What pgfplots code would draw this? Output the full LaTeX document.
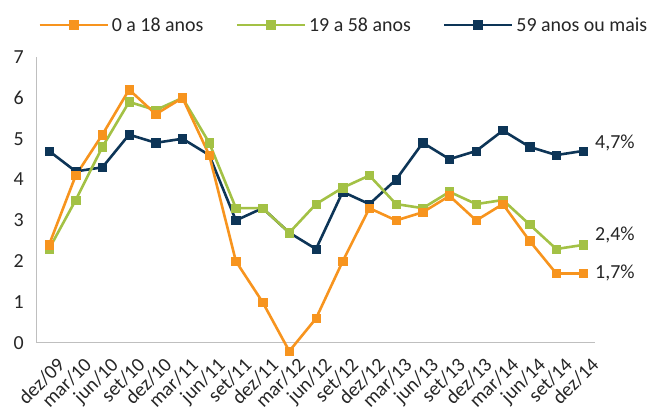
\documentclass[border=0pt]{standalone}
\usepackage{pgfplots}
\pgfplotsset{compat=1.18}
\usepackage{fontspec}
\setmainfont{Carlito}
\definecolor{corange}{RGB}{247,148,30}
\definecolor{cgreen}{RGB}{163,193,69}
\definecolor{cnavy}{RGB}{13,53,87}
\definecolor{caxis}{RGB}{191,191,191}
\definecolor{ctext}{RGB}{38,38,38}
\pgfplotstableread{
x o g n
0 2.4 2.3 4.7
1 4.1 3.5 4.2
2 5.1 4.8 4.3
3 6.2 5.9 5.1
4 5.6 5.7 4.9
5 6.0 6.0 5.0
6 4.6 4.9 4.6
7 2.0 3.3 3.0
8 1.0 3.3 3.3
9 -0.2 2.7 2.7
10 0.6 3.4 2.3
11 2.0 3.8 3.7
12 3.3 4.1 3.4
13 3.0 3.4 4.0
14 3.2 3.3 4.9
15 3.6 3.7 4.5
16 3.0 3.4 4.7
17 3.4 3.5 5.2
18 2.5 2.9 4.8
19 1.7 2.3 4.6
20 1.7 2.4 4.7
}\datatable
\begin{document}
\begin{tikzpicture}
\path[use as bounding box] (0,0) rectangle (654bp,407bp);
\begin{axis}[
 at={(37bp,64bp)}, anchor=south west,
 scale only axis, width=558bp, height=286bp,
 xmin=-0.45, xmax=20.45, ymin=0, ymax=7,
 axis x line=bottom, axis y line=left,
 axis line style={-, draw=caxis, line width=1bp},
 major tick length=0pt,
 xtick={0,...,20},
 xticklabels={dez/09,mar/10,jun/10,set/10,dez/10,mar/11,jun/11,set/11,dez/11,mar/12,jun/12,set/12,dez/12,mar/13,jun/13,set/13,dez/13,mar/14,jun/14,set/14,dez/14},
 ytick={0,...,7},
 clip=false,
 tick label style={font=\fontsize{20}{24}\selectfont, text=ctext},
 /pgf/number format/assume math mode=true,
 yticklabel style={inner sep=0pt, xshift=-13bp},
 xticklabel style={anchor=base east, inner sep=0pt, xshift=17bp, yshift=-23bp, rotate=45},
 legend columns=3,
 legend style={at={(axis description cs:0.0018,1.112)}, anchor=west, draw=none, fill=none, inner sep=0pt,
   font=\fontsize{20}{24}\selectfont, text=ctext,
   /tikz/every odd column/.append style={column sep=3bp},
   /tikz/every even column/.append style={column sep=32bp}, nodes={inner sep=0pt}},
 legend image code/.code={\draw[mark repeat=2,mark phase=2] plot coordinates {(0bp,0bp) (34bp,0bp) (68bp,0bp)};},
 every axis plot/.append style={line width=2.6bp, mark=square*, mark size=4.2bp, mark options={line width=0.5bp}},
]
\addlegendimage{corange, line width=2.6bp, mark=square*, mark size=4.5bp}
\addlegendentry{0 a 18 anos}
\addlegendimage{cgreen, line width=2.6bp, mark=square*, mark size=4.5bp}
\addlegendentry{19 a 58 anos}
\addlegendimage{cnavy, line width=2.6bp, mark=square*, mark size=4.5bp}
\addlegendentry{59 anos ou mais}
\addplot[cnavy, forget plot] table[x=x,y=n] {\datatable};
\addplot[cgreen, forget plot] table[x=x,y=g] {\datatable};
\addplot[corange, forget plot] table[x=x,y=o] {\datatable};
\node[anchor=west, inner sep=0pt, font=\fontsize{20}{24}\selectfont, text=ctext] at (axis cs:20.45,4.9) {4,7\%};
\node[anchor=west, inner sep=0pt, font=\fontsize{20}{24}\selectfont, text=ctext] at (axis cs:20.45,2.64) {2,4\%};
\node[anchor=west, inner sep=0pt, font=\fontsize{20}{24}\selectfont, text=ctext] at (axis cs:20.45,1.71) {1,7\%};
\end{axis}
\end{tikzpicture}
\end{document}
